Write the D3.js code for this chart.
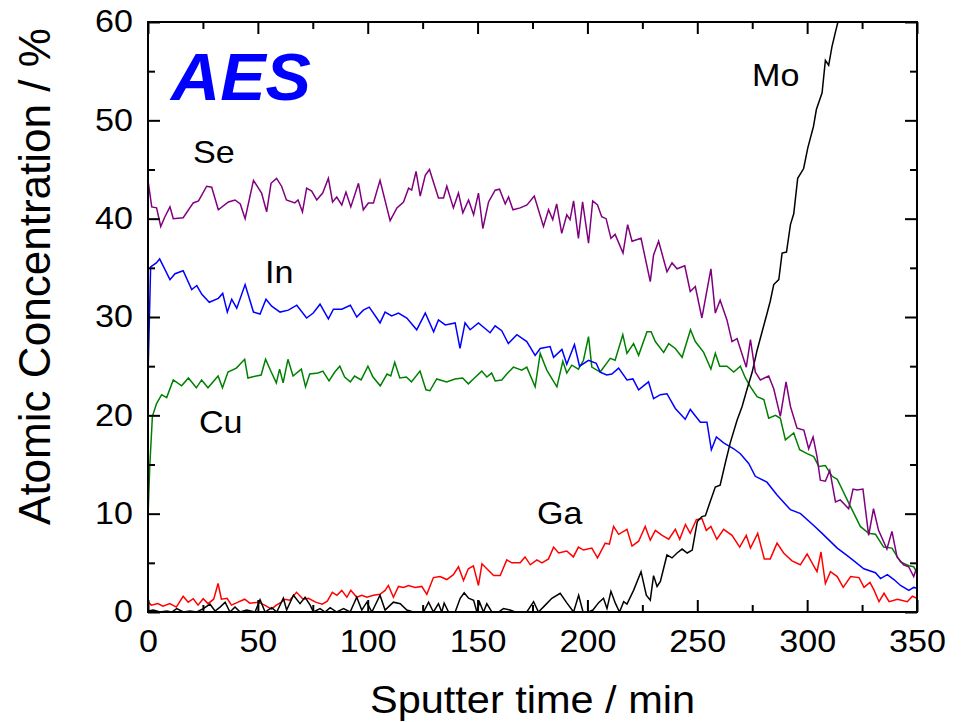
<!DOCTYPE html>
<html><head><meta charset="utf-8">
<script src="https://cdn.jsdelivr.net/npm/d3@7/dist/d3.min.js"></script>
<style>html,body{margin:0;padding:0;background:#fff;} svg{display:block;}</style>
</head><body>
<svg id="chart" width="961" height="722"></svg>
<script>
// ---- data (sputter time [min], atomic concentration [%]) ----
const xTicks = [0,50,100,150,200,250,300,350];
const xMinorTicks = [25,75,125,175,225,275,325];
const yTicks = [0,10,20,30,40,50,60];
const yMinorTicks = [5,15,25,35,45,55];

const seData = [[0,43.9],[1.7,41.2],[3.9,41.1],[5.8,39.2],[7.7,40.2],[10,41.2],[11.5,40.0],[16,40.1],[20.6,41.6],[23,41.8],[26.7,43.3],[29,43.2],[32,40.9],[36.6,41.7],[39.6,41.9],[42,41.5],[44.2,40.0],[48,43.9],[51.7,42.6],[54,40.7],[56,43.6],[58.5,44.1],[60.8,43.3],[63,41.9],[66.8,41.6],[68.3,41.9],[70.3,40.7],[72.2,43.1],[74.5,42.8],[76.8,41.9],[79.5,42.6],[82.1,44.1],[84,41.7],[85.9,42.2],[88.2,41.4],[90.1,42.7],[92.3,41.2],[95.8,43.6],[98,40.9],[100.3,41.6],[102.6,41.6],[105.6,43.9],[110.2,39.8],[113.3,41.1],[116.3,41.7],[118.6,43.1],[120,42.9],[122,44.8],[123.9,42.3],[126.2,44.4],[128.1,45.0],[132.2,42.1],[134.5,42.1],[136,43.3],[139,41.1],[141.3,42.6],[143.3,40.6],[145.9,41.9],[148.2,40.4],[150.4,42.6],[152.4,39.0],[155,41.7],[158,42.9],[160,43.0],[162.6,41.5],[164.1,42.2],[166.1,40.9],[169.4,41.1],[172.5,41.4],[175.8,42.3],[180,39.2],[182.3,40.9],[184.2,39.9],[186,41.5],[188.3,38.5],[190.6,40.4],[192.1,39.9],[193.7,41.8],[195.9,38.0],[197.8,41.7],[200.5,37.5],[202.4,41.8],[204.6,41.4],[206.5,40.2],[208.5,40.0],[210.7,38.0],[212.6,38.4],[216.2,36.5],[218.3,39.4],[220.3,37.7],[224.4,38.0],[228.6,33.6],[230.1,36.3],[232.4,37.7],[236.2,34.6],[238.5,35.5],[240.8,34.9],[244.3,35.2],[246.8,32.6],[249.1,33.1],[252.1,29.9],[256.2,34.9],[258.2,30.4],[260.4,31.7],[263.5,29.7],[265.8,27.5],[268.1,27.8],[272.3,24.9],[274.2,27.7],[276.4,24.4],[278.7,23.6],[282.5,24.0],[284.8,22.7],[287.8,19.9],[290.4,23.4],[292.4,20.9],[295.4,18.7],[298.5,18.5],[300.7,16.6],[302.7,17.8],[304.5,15.8],[306,13.4],[308.3,13.3],[310.3,14.4],[312.9,11.2],[315.1,11.4],[318.9,10.5],[320.9,12.5],[322.7,12.4],[325.4,12.5],[328,7.8],[330.2,10.5],[332.5,8.3],[336.3,6.4],[338.6,8.2],[340.9,5.6],[343.9,4.8],[346.2,4.6],[348.5,3.6],[350,4.6]];

const inData = [[0,24],[1.2,35.1],[3.8,35.5],[5.3,35.9],[10,33.8],[12.3,34.4],[16,34.7],[19.9,32.8],[22.2,33.2],[24.5,32.3],[27.9,31.5],[32,31.9],[34,32.4],[36.1,30.5],[38.1,31.8],[40.4,30.9],[44.2,33.3],[48,30.5],[51,30.3],[53.7,31.8],[56.3,31.1],[60.1,30.5],[63.9,30.7],[67.7,31.2],[72.2,29.9],[75.2,30.4],[78.3,31.3],[82.1,29.8],[84.4,30.8],[88.2,30.8],[92.1,31.2],[95,30.0],[98,30.7],[100.7,31.0],[104.1,29.9],[105.6,29.4],[107.9,30.5],[110.9,30.1],[114,30.4],[117.8,29.9],[122.3,28.7],[126.2,30.4],[130,28.5],[132.2,29.7],[135.3,29.2],[139.8,29.4],[142,26.8],[144.3,29.4],[146.6,28.7],[150.4,29.4],[155.7,28.4],[158,29.1],[161,28.6],[164,27.3],[167.9,28.2],[172.4,27.5],[176.2,26.1],[178.5,26.8],[183,27.0],[184.6,25.9],[188.4,26.7],[190.6,25.2],[194.1,27.2],[196.4,25.0],[200.5,25.6],[204,25.3],[205.8,24.4],[208.8,24.1],[211.1,24.2],[214.2,24.8],[218,23.6],[220.7,23.7],[223.3,22.6],[227.8,23.4],[230.1,21.7],[233.2,22.1],[236.2,22.2],[240,20.7],[244.5,19.6],[246.8,20.6],[251.4,19.3],[254.4,19.3],[256.4,16.5],[258.7,17.8],[262,17.2],[266.6,16.6],[269.6,16.1],[273.4,15.1],[276.4,13.8],[281.7,13.2],[286.3,11.9],[292.4,10.4],[297,10.0],[303,8.8],[306.8,8.0],[313.7,6.5],[319,5.6],[325.8,4.4],[331.1,4.0],[333.4,3.4],[336.5,3.8],[339.5,3.3],[342.5,2.7],[346.3,2.2],[348.5,2.5],[350,2.4]];

const cuData = [[0,9.7],[0.8,14.8],[2,19.9],[3.9,21.2],[6.2,22.1],[8.5,21.8],[11.5,23.6],[15.3,23.0],[18.4,23.8],[22,22.8],[24.4,23.6],[27.3,22.8],[31.9,24.0],[33.9,22.8],[36.4,24.4],[40.2,24.8],[44,25.7],[45.5,23.8],[49.3,24.0],[51.5,24.1],[53.5,25.7],[56.1,24.4],[58.4,23.3],[59.9,24.7],[61.5,23.3],[63.7,25.7],[66,24.0],[69.8,24.7],[71.7,22.9],[73.6,24.2],[77.4,24.3],[79.6,24.5],[82.4,23.5],[85,24.4],[87.3,25.0],[89.5,23.9],[92.1,23.4],[94,24.0],[97,23.6],[100.1,25.0],[102.4,23.9],[105.7,23.0],[108.8,24.2],[110.5,24.0],[112.3,25.4],[114.6,23.8],[117.6,23.9],[119.9,23.4],[123.8,24.5],[126.5,22.6],[128.3,22.5],[131.4,23.7],[135.9,23.4],[139.7,23.7],[143.2,23.8],[145.8,23.2],[148.1,23.7],[151.9,24.5],[154.2,23.9],[156.4,24.3],[158,23.5],[161,23.6],[163.3,24.2],[166.3,24.9],[170.1,24.6],[172.4,24.9],[176.2,22.9],[178.5,26.3],[181.5,24.6],[186.1,22.9],[188.8,25.5],[190.6,24.3],[192.9,25.1],[195.9,24.7],[198.2,25.6],[200.5,28.0],[202,24.9],[205.8,24.4],[210.4,25.8],[212.6,25.6],[216.1,28.2],[218,26.3],[221,27.3],[223.3,26.1],[227.1,28.5],[229,28.5],[230.9,27.5],[234.7,26.4],[237,27.3],[240,26.8],[243.1,25.9],[246.9,28.7],[249.1,27.5],[252.9,26.4],[256.2,24.7],[258.2,26.3],[260.2,25.0],[263.5,25.0],[266.6,24.4],[269.6,25.0],[271.9,23.8],[274.2,22.9],[277.2,21.9],[280.3,21.6],[282.5,19.7],[285.6,20.0],[287.8,19.7],[290.1,17.5],[293.9,18.2],[296.6,16.5],[300,16.1],[303,15.8],[305.3,14.8],[308.3,14.9],[311.4,13.8],[313.7,13.5],[318.9,11.1],[324.2,8.7],[328,8.0],[331.1,7.9],[334.8,6.6],[338.6,6.5],[342.5,5.1],[346.3,4.7],[348.5,4.6],[350,4.0]];

const gaData = [[0,1.05],[1.5,0.7],[4.5,0.85],[6.8,0.6],[9.9,0.85],[12.9,0.5],[16,1.6],[18.3,1.0],[20.6,1.35],[22.8,0.7],[25.1,1.35],[27.3,0.85],[29.9,1.3],[31.9,2.9],[33.4,1.3],[36,1.4],[38,0.7],[41,1.0],[44,1.3],[46.3,0.9],[50.1,1.0],[53.1,0.7],[56.2,0.3],[58.4,0.7],[60.7,1.0],[62.2,1.3],[64.5,1.2],[67.6,2.0],[70.6,1.3],[73,1.4],[76.3,1.0],[79.3,0.8],[81.6,1.1],[83.9,2.0],[86,1.7],[88.2,2.2],[90.5,1.5],[92.3,2.2],[95,1.5],[97.3,1.7],[99.6,1.5],[102.6,1.7],[105.6,1.8],[107.9,2.2],[109.4,2.7],[111.7,1.5],[114,2.6],[116.3,2.5],[118.6,2.7],[121.6,2.5],[124.6,2.6],[126.9,1.8],[129.9,3.5],[132.9,3.6],[136,3.3],[139,3.8],[141.3,4.6],[143.6,3.2],[145.8,4.4],[148.1,4.7],[150.4,2.7],[152,4.9],[154.2,4.4],[157.3,3.7],[160.3,3.7],[163.3,5.3],[165.6,5.0],[169.4,5.0],[171.6,5.6],[174,4.8],[177,5.3],[179.3,5.0],[182.3,5.4],[184.6,6.6],[186.9,6.0],[190.6,6.2],[193.6,5.6],[195.9,6.6],[198.2,6.3],[202,6.5],[204.6,5.5],[208.1,7.0],[210,6.9],[211.9,8.7],[214.2,7.9],[218,8.4],[220.3,6.7],[223.3,7.2],[226.3,8.7],[228.6,7.3],[230.9,8.3],[234,7.8],[237,7.4],[240,8.4],[242,7.4],[244.6,8.9],[246.8,8.0],[249.6,9.4],[252.1,9.5],[254.1,8.3],[256.2,8.7],[258.9,7.4],[262,8.4],[265.8,7.8],[269.3,6.6],[272.3,7.8],[274.2,6.5],[277.5,8.0],[280.5,5.4],[283.2,5.4],[286.3,7.0],[289.3,6.0],[293.1,5.2],[296.9,4.8],[300,5.9],[303,4.7],[304.5,4.1],[306.3,6.1],[308.3,2.9],[310.6,4.1],[313.7,3.6],[316.4,2.5],[319.8,3.6],[323.6,3.5],[325.9,2.5],[328.6,3.0],[330.5,2.2],[332.7,1.05],[335,1.9],[337.3,1.05],[341.1,1.3],[345.6,1.05],[347.9,1.6],[350,1.4]];

const moData = [[0,0.1],[2.4,0.2],[5.5,0],[8.5,0.1],[10.8,0],[13.1,0.35],[16.1,0],[19.1,0.1],[22.2,0],[25.2,0.35],[28.2,0.8],[30.5,0.1],[32.8,0.5],[35.1,1.0],[37.3,0],[39.6,0.5],[41.9,0],[44.9,0.2],[48.7,0],[51,1.25],[53.3,0],[56.3,0.45],[58.6,0],[61.6,1.4],[63.1,0.2],[66.2,1.7],[69.2,0.85],[71.5,1.5],[73.8,0.7],[75.3,0],[78.3,0.35],[80.6,0],[82.9,0.45],[85.9,0],[89,0.35],[92,0],[95,1.5],[97.3,0.2],[99.6,1.0],[101.9,0],[105.6,1.7],[107.9,0.2],[111.7,1.0],[114.8,0.85],[117.8,0.2],[120.8,0],[125.4,0],[127.7,1.0],[129.9,0],[132.2,0.85],[133.7,0],[134.8,0.9],[136.8,0],[139.8,0],[142.1,1.4],[143.9,1.96],[145.9,1.4],[148.2,1.2],[149.7,0],[150.9,1.0],[152.7,0],[154.2,0.85],[156.5,0],[159.5,0],[161.8,0.35],[164.8,0.2],[167.1,0],[172.4,0],[175.5,1.05],[177.7,0],[180.8,0.7],[183.8,1.4],[187.6,1.9],[190.7,0.9],[193.7,0],[196,1.7],[198,0],[200.5,0],[202.5,0.2],[205.1,0.95],[207.3,1.4],[208.9,0.35],[210.7,2.1],[212.7,0.9],[214.6,0],[216.5,1.05],[218,0.8],[221,2.2],[224.4,4.1],[226.8,1.7],[228.6,1.2],[230.1,3.7],[231.7,2.6],[233.2,3.1],[236.2,5.8],[238.5,5.5],[240.8,6.0],[243.1,6.4],[245.4,6.0],[247.7,6.3],[250,9.2],[252.1,9.7],[253.7,9.8],[255.7,11.1],[258.2,12.7],[260.4,12.9],[262.7,15.1],[265,17.2],[268.1,19.5],[270.4,20.9],[272.7,22.7],[275,24.4],[277.2,26.6],[279.5,28.5],[281.8,30.4],[283.2,31.6],[284.8,33.3],[287.1,33.8],[288.6,36.5],[290.6,36.6],[292.4,39.4],[293.9,40.5],[295.7,44.1],[298.4,45.1],[300.3,47.2],[302.9,49.4],[304.2,51.1],[306.8,52.8],[308.3,56.1],[309.8,55.6],[311.3,57.5],[312.9,59.0],[313.9,59.9],[316,62.5]];

const seriesNames = ["Cu","In","Ga","Mo","Se"];
const seriesData = [cuData, inData, gaData, moData, seData];
const seriesColors = ["#008000","#0000ff","#ff0000","#000000","#800080"];

// ---- layout ----
const svg = d3.select("#chart");
const FONT = "'Liberation Sans', Arial, Helvetica, sans-serif";
const x = d3.scaleLinear().domain([0,350]).range([148,917]);
const y = d3.scaleLinear().domain([0,60]).range([612,22]);
const SX = 1.1; // horizontal glyph stretch of the original

svg.append("defs").append("clipPath").attr("id","plotclip")
  .append("rect").attr("x",148).attr("y",22).attr("width",917-148).attr("height",612-22);

// lines
const line = d3.line().x(d=>x(d[0])).y(d=>y(d[1]));
const gLines = svg.append("g").attr("clip-path","url(#plotclip)");
seriesData.forEach((data,i)=>{
  gLines.append("path").datum(data).attr("d",line)
    .attr("fill","none").attr("stroke",seriesColors[i])
    .attr("stroke-width",1.5).attr("stroke-linejoin","miter");
});

// axes
function styleAxis(g){
  g.select(".domain").remove();
  g.selectAll(".tick line").attr("stroke","#000").attr("stroke-width",2);
}
const bottom = svg.append("g").attr("transform","translate(0,612)")
  .call(d3.axisBottom(x).tickValues(xTicks).tickSize(-12).tickPadding(18).tickFormat(d3.format("d")));
styleAxis(bottom);
bottom.selectAll("text").attr("font-family",FONT).attr("font-size",31).attr("fill","#000")
  .attr("transform",`scale(${SX},1)`);
svg.append("g").attr("transform","translate(0,612)")
  .call(d3.axisBottom(x).tickValues(xMinorTicks).tickSize(-7).tickFormat("")).call(styleAxis);
svg.append("g").attr("transform","translate(0,22)")
  .call(d3.axisTop(x).tickValues(xTicks).tickSize(-12).tickFormat("")).call(styleAxis);
svg.append("g").attr("transform","translate(0,22)")
  .call(d3.axisTop(x).tickValues(xMinorTicks).tickSize(-7).tickFormat("")).call(styleAxis);

const left = svg.append("g").attr("transform","translate(148,0)")
  .call(d3.axisLeft(y).tickValues(yTicks).tickSize(-12).tickPadding(15).tickFormat(d3.format("d")));
styleAxis(left);
left.selectAll("text").attr("font-family",FONT).attr("font-size",31).attr("fill","#000")
  .attr("x",-15/SX).attr("transform",`scale(${SX},1)`);
svg.append("g").attr("transform","translate(148,0)")
  .call(d3.axisLeft(y).tickValues(yMinorTicks).tickSize(-7).tickFormat("")).call(styleAxis);
svg.append("g").attr("transform","translate(917,0)")
  .call(d3.axisRight(y).tickValues(yTicks).tickSize(-12).tickFormat("")).call(styleAxis);
svg.append("g").attr("transform","translate(917,0)")
  .call(d3.axisRight(y).tickValues(yMinorTicks).tickSize(-7).tickFormat("")).call(styleAxis);

// frame
svg.append("rect").attr("x",148).attr("y",22).attr("width",917-148).attr("height",612-22)
  .attr("fill","none").attr("stroke","#000").attr("stroke-width",2);

// axis titles
svg.append("text").attr("x",532.5).attr("y",713).attr("text-anchor","middle")
  .attr("font-family",FONT).attr("font-size",39).attr("fill","#000")
  .attr("textLength",325).attr("lengthAdjust","spacingAndGlyphs")
  .text("Sputter time / min");
svg.append("text").attr("transform",`translate(50,276.5) scale(${SX},1) rotate(-90)`)
  .attr("text-anchor","middle")
  .attr("font-family",FONT).attr("font-size",40).attr("fill","#000")
  .attr("textLength",497).attr("lengthAdjust","spacingAndGlyphs")
  .text("Atomic Concentration / %");

// series labels
const labelPos = {Se:[193,163], In:[265,283], Cu:[199,433], Ga:[537,524], Mo:[752,86]};
Object.entries(labelPos).forEach(([name,p])=>{
  svg.append("text").attr("transform",`translate(${p[0]},${p[1]}) scale(${SX},1)`)
    .attr("font-family",FONT).attr("font-size",31).attr("fill","#000").text(name);
});

// AES title
svg.append("text").attr("x",171).attr("y",100)
  .attr("font-family",FONT).attr("font-size",66).attr("font-weight","bold").attr("font-style","italic")
  .attr("fill","#0000ff").attr("textLength",140).attr("lengthAdjust","spacingAndGlyphs")
  .text("AES");
</script>
</body></html>
